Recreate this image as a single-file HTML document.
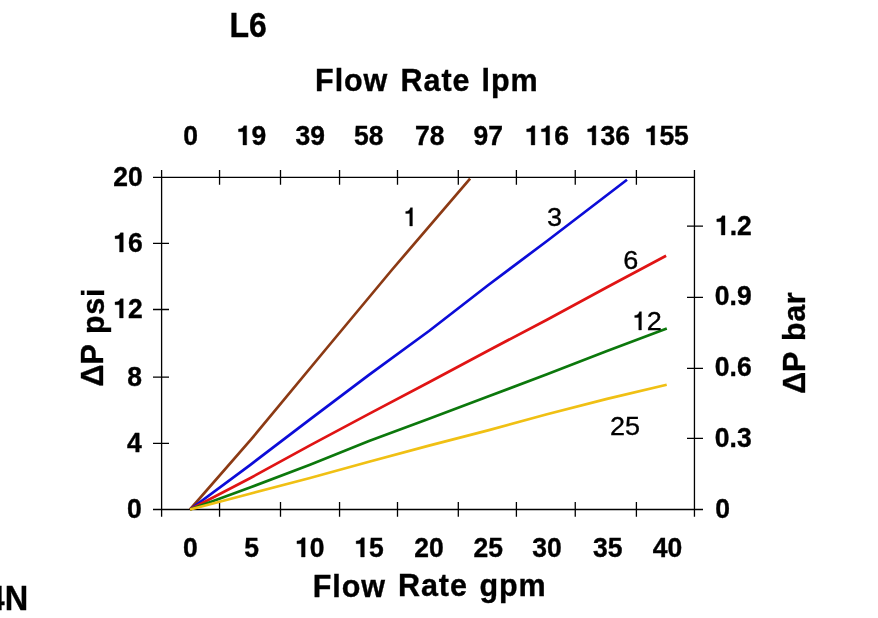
<!DOCTYPE html>
<html><head><meta charset="utf-8"><style>
svg{will-change:transform}
html,body{margin:0;padding:0;background:#fff;width:878px;height:618px;overflow:hidden}
svg{display:block;font-family:"Liberation Sans",sans-serif;font-weight:bold;fill:#000}
text,g path{stroke:#000;stroke-width:0.35px}
text .h{fill:none;stroke:none}

</style></head><body>
<svg width="878" height="618" viewBox="0 0 878 618">
<rect width="878" height="618" fill="#fff"/>
<path d="M161.6 177.45H694.45V509.5H161.6Z M161.60 170V184.7 M161.60 502V516.7 M219.55 170V184.7 M219.55 502V516.7 M280.50 170V184.7 M280.50 502V516.7 M339.55 170V184.7 M339.55 502V516.7 M397.50 170V184.7 M397.50 502V516.7 M458.30 170V184.7 M458.30 502V516.7 M516.40 170V184.7 M516.40 502V516.7 M575.25 170V184.7 M575.25 502V516.7 M636.40 170V184.7 M636.40 502V516.7 M694.45 170V184.7 M694.45 502V516.7 M153 177.45H169 M153 243.30H169 M153 309.50H169 M153 377.20H169 M153 443.30H169 M153 509.50H169 M687 226.20H703 M687 297.30H703 M687 368.40H703 M687 438.40H703 M687 509.50H703" fill="none" stroke="#000" stroke-width="1.3"/>
<path d="M190.0 509.5 L251.3 439.2 L325.2 350 L391.8 270 L470.1 178.6" fill="none" stroke="#8c3a14" stroke-width="2.7" stroke-linejoin="round"/>
<path d="M190.0 509.5 L250 465.1 L310 419.4 L369 374.9 L429 331 L488 285.2 L547 241 L627.0 179.8" fill="none" stroke="#0c0cd8" stroke-width="2.7" stroke-linejoin="round"/>
<path d="M190.0 509.5 L250 478.2 L310 445.4 L369 413.9 L429 382.2 L488 350.7 L547 319.7 L607 287.3 L666.1 255.8" fill="none" stroke="#e01414" stroke-width="2.7" stroke-linejoin="round"/>
<path d="M190.0 509.5 L250 487.5 L310 464.8 L369 441.1 L429 418.7 L488 396.5 L547 374.2 L607 351 L666.8 328.4" fill="none" stroke="#0c780c" stroke-width="2.7" stroke-linejoin="round"/>
<path d="M190.0 509.5 L250 493.7 L310 478 L369 461.7 L429 445.6 L488 430.4 L547 414.2 L607 398.9 L666.7 384.7" fill="none" stroke="#f0c014" stroke-width="2.7" stroke-linejoin="round"/>
<g transform="translate(183.18 145.00) scale(1 1.02)"><text font-size="26.5">0</text></g>
<g transform="translate(236.65 145.00) scale(1 1.02)"><text font-size="26.5"><tspan class="h">1</tspan>9</text><path d="M10.02 0.00V-18.81H7.21C6.76 -16.83 5.30 -15.85 1.83 -15.69V-13.04H6.31V0.00Z"/></g>
<g transform="translate(295.45 145.00) scale(1 1.02)"><text font-size="26.5">39</text></g>
<g transform="translate(354.10 145.00) scale(1 1.02)"><text font-size="26.5">58</text></g>
<g transform="translate(415.02 145.00) scale(1 1.02)"><text font-size="26.5">78</text></g>
<g transform="translate(473.52 145.00) scale(1 1.02)"><text font-size="26.5">97</text></g>
<g transform="translate(524.83 145.00) scale(1 1.02)"><text font-size="26.5"><tspan class="h">1</tspan><tspan class="h">1</tspan>6</text><path d="M10.02 0.00V-18.81H7.21C6.76 -16.83 5.30 -15.85 1.83 -15.69V-13.04H6.31V0.00Z"/><path d="M24.76 0.00V-18.81H21.95C21.50 -16.83 20.04 -15.85 16.57 -15.69V-13.04H21.05V0.00Z"/></g>
<g transform="translate(585.83 145.00) scale(1 1.02)"><text font-size="26.5"><tspan class="h">1</tspan>36</text><path d="M10.02 0.00V-18.81H7.21C6.76 -16.83 5.30 -15.85 1.83 -15.69V-13.04H6.31V0.00Z"/></g>
<g transform="translate(644.65 145.00) scale(1 1.02)"><text font-size="26.5"><tspan class="h">1</tspan>55</text><path d="M10.02 0.00V-18.81H7.21C6.76 -16.83 5.30 -15.85 1.83 -15.69V-13.04H6.31V0.00Z"/></g>
<g transform="translate(183.07 557.00) scale(1 1.02)"><text font-size="26.5">0</text></g>
<g transform="translate(244.20 557.00) scale(1 1.02)"><text font-size="26.5">5</text></g>
<g transform="translate(295.12 557.00) scale(1 1.02)"><text font-size="26.5"><tspan class="h">1</tspan>0</text><path d="M10.02 0.00V-18.81H7.21C6.76 -16.83 5.30 -15.85 1.83 -15.69V-13.04H6.31V0.00Z"/></g>
<g transform="translate(354.32 557.00) scale(1 1.02)"><text font-size="26.5"><tspan class="h">1</tspan>5</text><path d="M10.02 0.00V-18.81H7.21C6.76 -16.83 5.30 -15.85 1.83 -15.69V-13.04H6.31V0.00Z"/></g>
<g transform="translate(414.32 557.00) scale(1 1.02)"><text font-size="26.5">20</text></g>
<g transform="translate(473.57 557.00) scale(1 1.02)"><text font-size="26.5">25</text></g>
<g transform="translate(532.20 557.00) scale(1 1.02)"><text font-size="26.5">30</text></g>
<g transform="translate(592.90 557.00) scale(1 1.02)"><text font-size="26.5">35</text></g>
<g transform="translate(652.78 557.00) scale(1 1.02)"><text font-size="26.5">40</text></g>
<g transform="translate(113.32 186.00) scale(1 1.02)"><text font-size="26.5">20</text></g>
<g transform="translate(113.25 252.00) scale(1 1.02)"><text font-size="26.5"><tspan class="h">1</tspan>6</text><path d="M10.02 0.00V-18.81H7.21C6.76 -16.83 5.30 -15.85 1.83 -15.69V-13.04H6.31V0.00Z"/></g>
<g transform="translate(113.22 318.00) scale(1 1.02)"><text font-size="26.5"><tspan class="h">1</tspan>2</text><path d="M10.02 0.00V-18.81H7.21C6.76 -16.83 5.30 -15.85 1.83 -15.69V-13.04H6.31V0.00Z"/></g>
<g transform="translate(127.27 386.00) scale(1 1.02)"><text font-size="26.5">8</text></g>
<g transform="translate(126.95 452.00) scale(1 1.02)"><text font-size="26.5">4</text></g>
<g transform="translate(127.12 518.00) scale(1 1.02)"><text font-size="26.5">0</text></g>
<g transform="translate(714.97 235.00) scale(1 1.02)"><text font-size="26.5"><tspan class="h">1</tspan>.2</text><path d="M10.02 0.00V-18.81H7.21C6.76 -16.83 5.30 -15.85 1.83 -15.69V-13.04H6.31V0.00Z"/></g>
<g transform="translate(714.85 305.00) scale(1 1.02)"><text font-size="26.5">0.9</text></g>
<g transform="translate(714.85 376.00) scale(1 1.02)"><text font-size="26.5">0.6</text></g>
<g transform="translate(714.85 447.00) scale(1 1.02)"><text font-size="26.5">0.3</text></g>
<g transform="translate(715.22 518.00) scale(1 1.02)"><text font-size="26.5">0</text></g>
<g transform="translate(229.52 37.00) scale(1 1.09)"><text font-size="32">L6</text></g>
<g transform="translate(-13.40 610.00) scale(1 1.07)"><text font-size="32.5">4N</text></g>
<g transform="translate(315.12 91.00)"><text font-size="30.5" letter-spacing="0.9">Flow</text></g>
<g transform="translate(400.62 91.00)"><text font-size="30.5" letter-spacing="0.9">Rate</text></g>
<g transform="translate(481.57 91.00)"><text font-size="30.5" letter-spacing="0.9">lpm</text></g>
<g transform="translate(312.73 597.00)"><text font-size="30.5" letter-spacing="0.9">Flow</text></g>
<g transform="translate(398.08 596.00)"><text font-size="30.5" letter-spacing="0.9">Rate</text></g>
<g transform="translate(479.40 596.00)"><text font-size="30.5" letter-spacing="0.9">gpm</text></g>
<g transform="translate(402.75 226.00) scale(1 0.965)"><text font-size="27" font-weight="normal"><tspan class="h">1</tspan></text><path d="M9.69 0.00V-18.98H7.72C7.07 -16.61 5.80 -15.25 2.94 -14.99V-13.01H6.99V0.00Z"/></g>
<g transform="translate(546.88 226.00) scale(1 0.965)"><text font-size="27" font-weight="normal">3</text></g>
<g transform="translate(623.17 269.00) scale(1 0.965)"><text font-size="27" font-weight="normal">6</text></g>
<g transform="translate(631.75 330.00) scale(1 0.965)"><text font-size="27" font-weight="normal"><tspan class="h">1</tspan>2</text><path d="M9.69 0.00V-18.98H7.72C7.07 -16.61 5.80 -15.25 2.94 -14.99V-13.01H6.99V0.00Z"/></g>
<g transform="translate(609.92 435.00) scale(1 0.965)"><text font-size="27" font-weight="normal">25</text></g>
<g transform="translate(103.00 386.51) rotate(-90)"><text font-size="30.5">ΔP</text></g>
<g transform="translate(104.00 334.10) rotate(-90)"><text font-size="30.5" letter-spacing="0.8">psi</text></g>
<g transform="translate(805.00 393.80) rotate(-90)"><text font-size="30.5">ΔP</text></g>
<g transform="translate(805.00 341.00) rotate(-90)"><text font-size="30.5" letter-spacing="0.6">bar</text></g>
</svg></body></html>
